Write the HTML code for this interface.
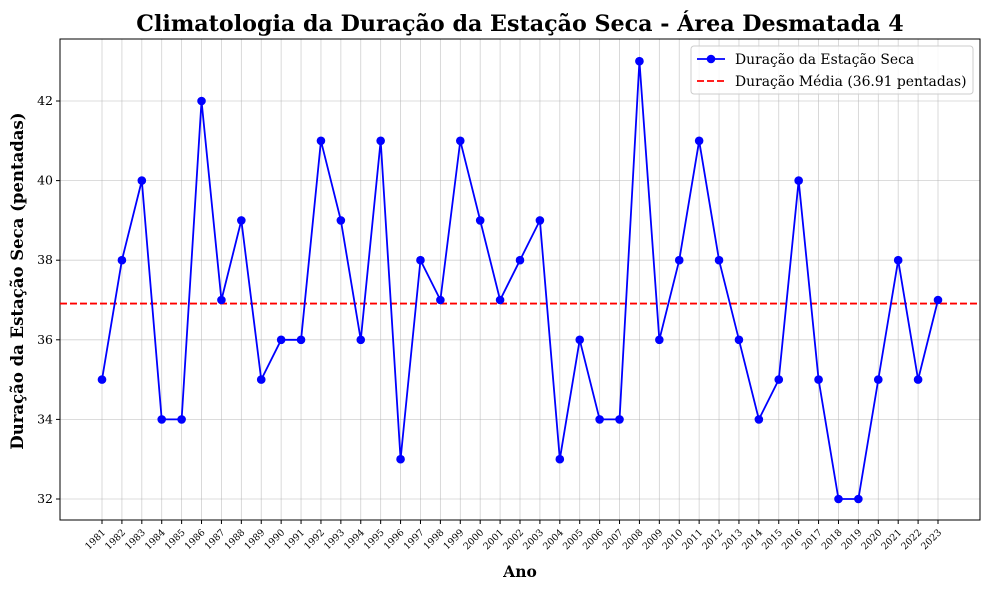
<!DOCTYPE html>
<html><head><meta charset="utf-8"><style>
body{margin:0;background:#fff;}
svg{font-family:"DejaVu Serif","Liberation Serif",serif;}
</style></head><body>
<svg width="989" height="590">
<g id="grid"></g>
<g id="axes"></g>
<g id="series"></g>
<text x="520" y="31" text-anchor="middle" font-size="22.2" font-weight="bold">Climatologia da Duração da Estação Seca - Área Desmatada 4</text>
<text x="520" y="577" text-anchor="middle" font-size="15.5" font-weight="bold">Ano</text>
<text transform="translate(23,281) rotate(-90)" text-anchor="middle" font-size="16.5" font-weight="bold">Duração da Estação Seca (pentadas)</text>
<g>
<rect x="691" y="46" width="282" height="48" rx="3" fill="#fff" fill-opacity="0.8" stroke="#ccc"/>
<g>
<line x1="697" y1="59" x2="725" y2="59" stroke="#0000ff" stroke-width="1.8"/><circle cx="711" cy="59" r="4.3" fill="#0000ff"/>
<text x="735" y="64" font-size="13.9">Duração da Estação Seca</text></g>
<g>
<line x1="697" y1="81" x2="725" y2="81" stroke="#ff0000" stroke-width="1.8" stroke-dasharray="7,3"/>
<text x="735" y="86" font-size="13.9">Duração Média (36.91 pentadas)</text></g>
</g>
</svg>
<script>
const years=[1981,1982,1983,1984,1985,1986,1987,1988,1989,1990,1991,1992,1993,1994,1995,1996,1997,1998,1999,2000,2001,2002,2003,2004,2005,2006,2007,2008,2009,2010,2011,2012,2013,2014,2015,2016,2017,2018,2019,2020,2021,2022,2023];
const durations=[35,38,40,34,34,42,37,39,35,36,36,41,39,36,41,33,38,37,41,39,37,38,39,33,36,34,34,43,36,38,41,38,36,34,35,40,35,32,32,35,38,35,37];
const meanValue=36.91;
const yTicks=[32,34,36,38,40,42];
const NS='http://www.w3.org/2000/svg';
const L=60,R=980,T=39,B=520;
const xs=y=>102+(y-1981)*(938-102)/42;
const ys=v=>499-(v-32)*39.8;
function mk(tag,attrs,parent,text){const e=document.createElementNS(NS,tag);for(const k in attrs)e.setAttribute(k,attrs[k]);if(text!==undefined)e.textContent=text;document.getElementById(parent).appendChild(e);return e;}
years.forEach(y=>{
 const g=mk('line',{x1:xs(y),x2:xs(y),y1:T,y2:B,stroke:'#b0b0b0','stroke-opacity':0.6,'stroke-width':0.8},'grid');
 
 
 const t=mk('line',{x1:xs(y),x2:xs(y),y1:B,y2:B+4,stroke:'#000'},'axes');
 
 
 const l=mk('text',{x:xs(y)+4,y:B+13,'font-size':9.5,'text-anchor':'end',transform:`rotate(-45 ${xs(y)+4} ${B+13})`},'axes',String(y));
 
 
});
yTicks.forEach(v=>{
 const g=mk('line',{x1:L,x2:R,y1:ys(v),y2:ys(v),stroke:'#b0b0b0','stroke-opacity':0.6,'stroke-width':0.8},'grid');
 
 
 const t=mk('line',{x1:L-4,x2:L,y1:ys(v),y2:ys(v),stroke:'#000'},'axes');
 
 
 const l=mk('text',{x:L-7,y:ys(v)+4,'font-size':12.5,'text-anchor':'end'},'axes',String(v));
 
 
});
const fr=mk('rect',{x:L,y:T,width:R-L,height:B-T,fill:'none',stroke:'#000','stroke-width':1},'axes');


const ml=mk('line',{x1:L,x2:R,y1:ys(meanValue),y2:ys(meanValue),stroke:'#ff0000','stroke-width':1.8,'stroke-dasharray':'7,3'},'series');


const pl=mk('polyline',{points:years.map((y,i)=>xs(y)+','+ys(durations[i])).join(' '),fill:'none',stroke:'#0000ff','stroke-width':1.8},'series');


years.forEach((y,i)=>{
 const c=mk('circle',{cx:xs(y),cy:ys(durations[i]),r:4.3,fill:'#0000ff'},'series');
 
 
});
</script>
</body></html>
